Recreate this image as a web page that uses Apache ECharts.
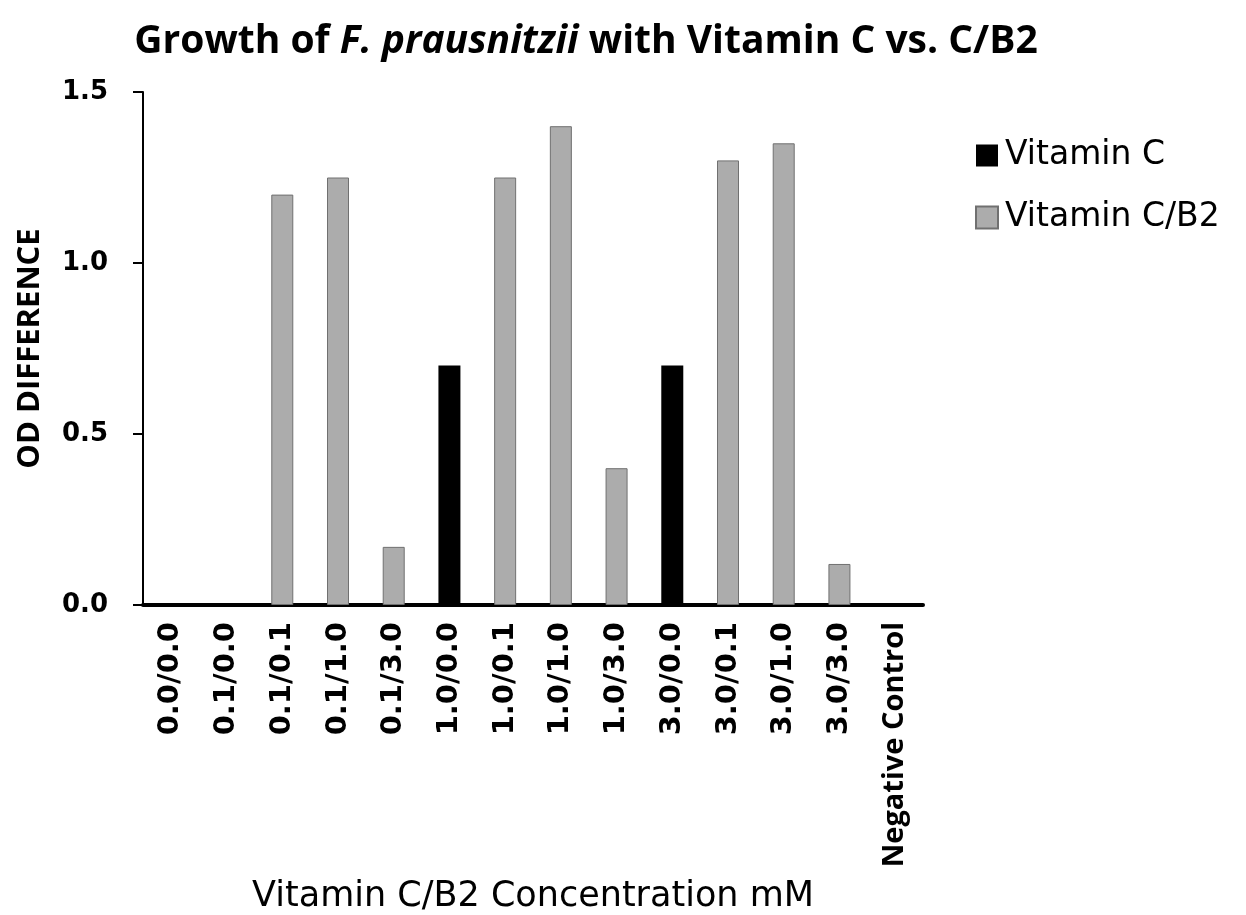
<!DOCTYPE html>
<html>
<head>
<meta charset="utf-8">
<script src="https://cdn.jsdelivr.net/npm/echarts@6/dist/echarts.min.js"></script>
<style>
  html, body { margin: 0; padding: 0; background: #fff; }
  #chart { width: 1246px; height: 915px; }
</style>
</head>
<body>
<div id="chart"></div>
<script>
// categories along the x axis
var categories = ['0.0/0.0', '0.1/0.0', '0.1/0.1', '0.1/1.0', '0.1/3.0', '1.0/0.0', '1.0/0.1',
    '1.0/1.0', '1.0/3.0', '3.0/0.0', '3.0/0.1', '3.0/1.0', '3.0/3.0', 'Negative Control'];
// OD difference, one bar per category ('-' = no bar for that series)
var vitaminC   = [0, 0, '-', '-', '-', 0.70, '-', '-', '-', 0.70, '-', '-', '-', 0];
var vitaminCB2 = ['-', '-', 1.20, 1.25, 0.17, '-', 1.25, 1.40, 0.40, '-', 1.30, 1.35, 0.12, '-'];
var yTicks = [0, 0.5, 1.0, 1.5];

var chart = echarts.init(document.getElementById('chart'));

var option = {
    backgroundColor: '#fff',
    animation: false,
    title: {
        text: '{b|Growth of }{i|F. prausnitzii}{b| with Vitamin C vs. C/B2}',
        left: 581,
        textAlign: 'center',
        top: 17,
        textStyle: {
            rich: {
                b: { fontFamily: 'Open Sans', fontWeight: 'bold', fontSize: 39, color: '#000' },
                i: { fontFamily: 'Open Sans', fontWeight: 'bold', fontStyle: 'italic', fontSize: 39, color: '#000' }
            }
        }
    },
    legend: {
        orient: 'vertical',
        left: 970,
        top: 134,
        itemWidth: 22,
        itemHeight: 22,
        itemGap: 29,
        icon: 'rect',
        textStyle: { fontFamily: 'DejaVu Sans', fontSize: 33, color: '#000', padding: [0, 0, 0, 2] },
        data: ['Vitamin C', 'Vitamin C/B2']
    },
    grid: {
        left: 143,
        right: 323,
        top: 92,
        bottom: 310,
        outerBoundsMode: 'none'
    },
    xAxis: {
        type: 'category',
        data: categories,
        name: 'Vitamin C/B2 Concentration mM',
        nameLocation: 'middle',
        nameGap: 274,
        nameTextStyle: { fontFamily: 'DejaVu Sans', fontSize: 35, color: '#000' },
        axisLine: { lineStyle: { color: '#000', width: 4 } },
        axisTick: { alignWithLabel: true, length: 13, lineStyle: { color: '#000', width: 3 } },
        axisLabel: {
            rotate: 90,
            interval: 0,
            margin: 17,
            fontFamily: 'DejaVu Sans',
            fontWeight: 'bold',
            fontSize: 29,
            color: '#000',
            formatter: function (v) {
                return v === 'Negative Control' ? '{n|' + v + '}' : v;
            },
            rich: {
                n: { fontFamily: 'Open Sans', fontWeight: 'bold', fontSize: 29, color: '#000' }
            }
        }
    },
    yAxis: {
        type: 'value',
        min: 0,
        max: 1.5,
        interval: 0.5,
        name: 'OD DIFFERENCE',
        nameLocation: 'middle',
        nameGap: 97,
        nameRotate: 90,
        nameTextStyle: { fontFamily: 'Open Sans', fontWeight: 'bold', fontSize: 31, color: '#000' },
        axisLine: { show: true, lineStyle: { color: '#000', width: 2 } },
        axisTick: { show: true, length: 10, lineStyle: { color: '#000', width: 2 } },
        splitLine: { show: false },
        axisLabel: {
            margin: 35,
            fontFamily: 'DejaVu Sans',
            fontWeight: 'bold',
            fontSize: 26,
            color: '#000',
            customValues: yTicks,
            formatter: function (v) { return v.toFixed(1); }
        }
    },
    series: [
        {
            name: 'Vitamin C',
            type: 'bar',
            stack: 'od',
            barWidth: 22,
            itemStyle: { color: '#000', borderWidth: 0 },
            data: vitaminC
        },
        {
            name: 'Vitamin C/B2',
            type: 'bar',
            stack: 'od',
            barWidth: 22,
            itemStyle: { color: '#acacac', borderColor: '#707070', borderWidth: 1 },
            data: vitaminCB2
        }
    ]
};

chart.setOption(option);
window.addEventListener('resize', function () {
    chart.resize();
});
</script>
</body>
</html>
